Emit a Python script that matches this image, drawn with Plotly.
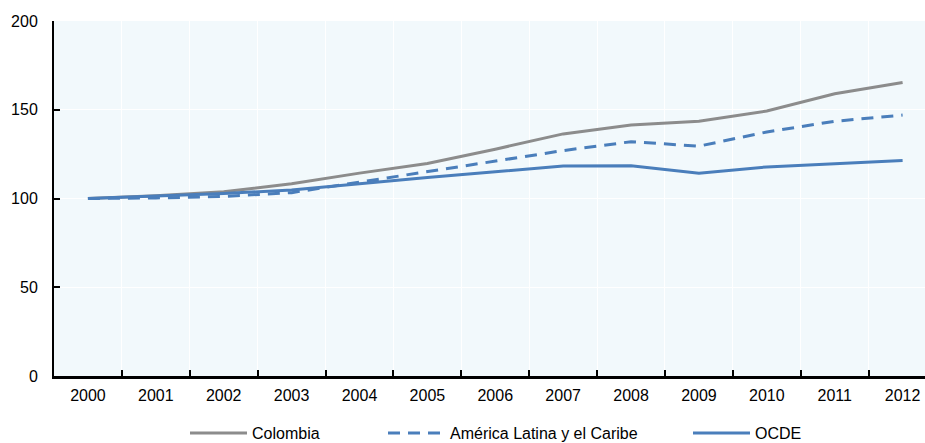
import plotly.graph_objects as go

years = [str(y) for y in range(2000, 2013)]
colombia = [100, 101.5, 103.8, 108.3, 114.3, 119.7, 127.8, 136.4, 141.4, 143.5, 149.3, 159.0, 165.3]
america_latina = [100, 100.3, 101.2, 103.3, 109.2, 115.0, 120.8, 127.0, 132.0, 129.5, 137.5, 143.5, 147.0]
ocde = [100, 101.2, 102.8, 104.8, 108.5, 111.8, 115.1, 118.3, 118.5, 114.3, 117.8, 119.8, 121.4]
y_ticks = [0, 50, 100, 150, 200]

FONT = "Liberation Sans Narrow, Arial Narrow, Liberation Sans, Arial, sans-serif"
FONT_SIZE = 16
GREY = "#8c8c8c"
BLUE = "#4a7ebb"
W, H = 925, 443

fig = go.Figure()
fig.add_trace(go.Scatter(x=years, y=colombia, name="Colombia", mode="lines",
                         line=dict(color=GREY, width=3), legend="legend"))
fig.add_trace(go.Scatter(x=years, y=america_latina, name="América Latina y el Caribe", mode="lines",
                         line=dict(color=BLUE, width=3, dash="12px,8px"), legend="legend2"))
fig.add_trace(go.Scatter(x=years, y=ocde, name="OCDE", mode="lines",
                         line=dict(color=BLUE, width=3), legend="legend3"))

leg_common = dict(orientation="h", xref="container", yref="container",
                  yanchor="middle", xanchor="left", y=(H - 433) / H,
                  bgcolor="rgba(0,0,0,0)", borderwidth=0,
                  font=dict(family=FONT, size=FONT_SIZE, color="#000"),
                  itemwidth=57)

fig.update_layout(
    width=W, height=H,
    margin=dict(l=54, r=0, t=21, b=67, autoexpand=False),
    paper_bgcolor="white",
    plot_bgcolor="#f2f9fc",
    font=dict(family=FONT, size=FONT_SIZE, color="#000"),
    showlegend=True,
    legend=dict(x=185 / W, **leg_common),
    legend2=dict(x=383 / W, **leg_common),
    legend3=dict(x=688 / W, **leg_common),
    xaxis=dict(type="category", range=[-0.5, 12.33], tickson="boundaries",
               ticks="inside", ticklen=6, tickwidth=1.5, tickcolor="#000",
               showline=True, linecolor="#000", linewidth=2.5,
               showgrid=True, gridcolor="#ffffff", gridwidth=1,
               ticklabelstandoff=3, zeroline=False),
    yaxis=dict(range=[0, 200], tickvals=y_ticks, ticks="inside", ticklen=6,
               tickwidth=1.5, tickcolor="#000",
               showline=True, linecolor="#000", linewidth=2,
               showgrid=True, gridcolor="#ffffff", gridwidth=1,
               zeroline=False, ticklabelstandoff=11),
)

fig.write_html("out.html")
